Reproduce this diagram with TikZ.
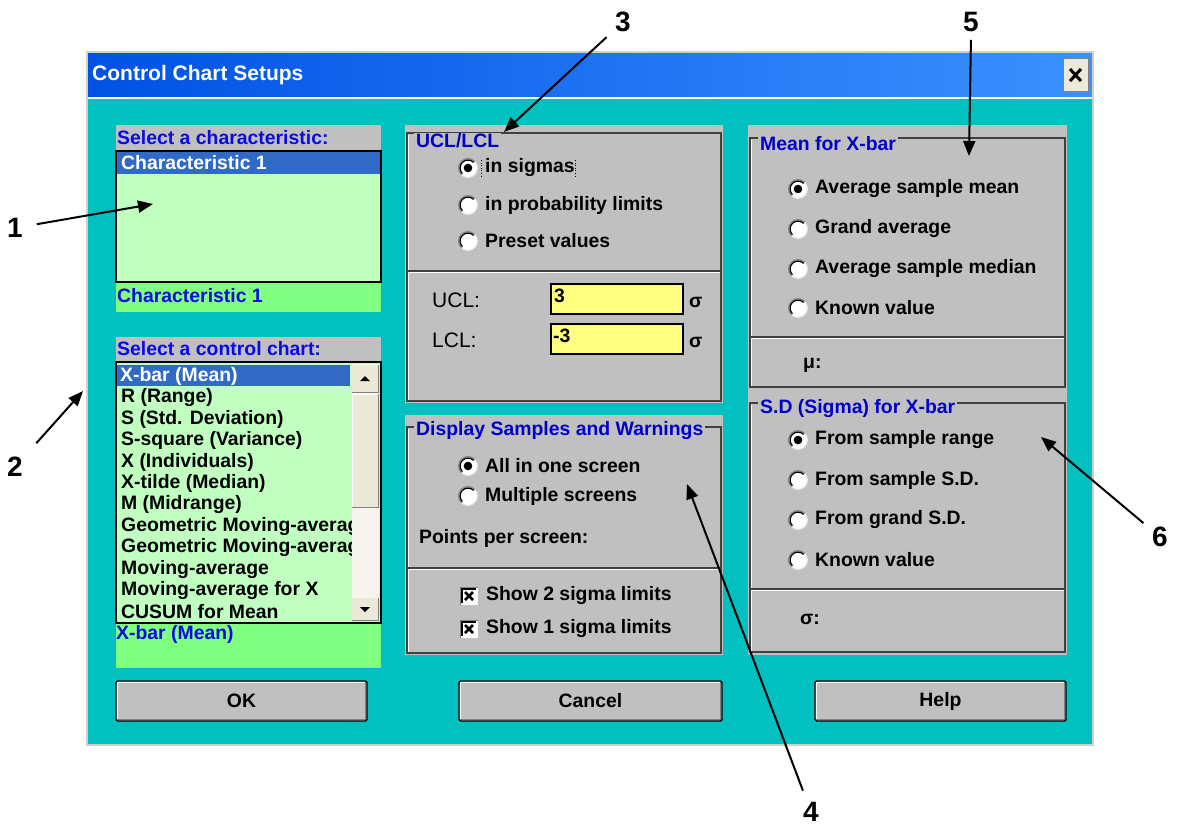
\documentclass[tikz,border=0pt]{standalone}
\usepackage{fontspec}
\setmainfont{Liberation Sans}
\usetikzlibrary{arrows.meta,calc}

\definecolor{winteal}{RGB}{0,192,192}
\definecolor{wingray}{RGB}{192,192,192}
\definecolor{listgreen}{RGB}{192,255,192}
\definecolor{stripgreen}{RGB}{128,255,128}
\definecolor{fieldyellow}{RGB}{255,255,128}
\definecolor{selblue}{RGB}{49,106,197}
\definecolor{labelblue}{RGB}{10,10,230}
\definecolor{titleblue}{RGB}{0,0,200}
\definecolor{xpbeige}{RGB}{236,233,216}
\definecolor{framegray}{RGB}{212,208,200}
\definecolor{darkedge}{RGB}{64,64,64}

\tikzset{
  ui/.style={font=\fontsize{19.4}{22}\selectfont\bfseries,inner sep=0pt,anchor=west},
  uiblue/.style={ui,text=labelblue},
  grouptitle/.style={ui,text=titleblue,fill=wingray,inner xsep=2pt,inner ysep=1pt},
  num/.style={font=\fontsize{28}{30}\selectfont\bfseries,inner sep=4pt},
  callout/.style={line width=2pt,-{Triangle[length=15pt,width=12pt]}},
  etchdark/.style={draw=darkedge,line width=1.2pt},
  etchlight/.style={draw=white,line width=1.2pt},
  % radio button: sunken circle, shadowed on the upper left half
  radiooff/.pic={
    \fill[white] (0,0) circle [radius=9.3pt];
    \draw[white!85!gray,line width=1.2pt] (0,0) circle [radius=9.3pt];
    \begin{scope}
      \clip (-13,13) -- (-13,-13) -- (13,-13) -- cycle;
      \draw[gray,line width=1.4pt] (0,0) circle [radius=9.3pt];
      \draw[black,line width=1.2pt] (0,0) circle [radius=7.9pt];
    \end{scope}
  },
  radioon/.pic={
    \pic {radiooff};
    \fill[black] (0,0) circle [radius=4.3pt];
  },
  checkon/.pic={
    \fill[white] (-8.5,-8.5) rectangle (8.5,8.5);
    \draw[gray,line width=1.4pt] (-8.5,8.5) -- (-8.5,-8.5) -- (8.5,-8.5);
    \draw[black,line width=1.2pt] (-7,7) -- (-7,-7) -- (7,-7);
    \draw[black,line width=2.8pt] (-4,-4) -- (4,4) (-4,4) -- (4,-4);
  },
  pushbtn/.style={draw=black,line width=1.4pt,fill=wingray,rounded corners=1.5pt,
    font=\fontsize{19.4}{22}\selectfont\bfseries,inner sep=0pt}
}

\begin{document}
\begin{tikzpicture}[x=1pt,y=-1pt]
\useasboundingbox[fill=white] (0,0) rectangle (1179,827);

% ---------- window ----------
\fill[winteal] (87,97) rectangle (1093,745);
\shade[left color={rgb,255:red,0;green,82;blue,228},right color={rgb,255:red,60;green,145;blue,255}]
  (87,52) rectangle (1093,97);
\draw[white!80!framegray,line width=1.5pt] (87,98) -- (1093,98);
\draw[framegray,line width=2pt] (87,52) rectangle (1093,745);
\node[ui,text=white,font=\fontsize{21}{24}\selectfont\bfseries] (wintitle) at (92,75) {Control Chart Setups};

% close button
\node[draw=gray,fill=xpbeige,minimum width=25pt,minimum height=33pt,inner sep=0pt] (closebtn) at (1075.5,75) {};
\draw[black,line width=3pt] (1070,69) -- (1081,81) (1070,81) -- (1081,69);

% ---------- characteristic list ----------
\fill[wingray] (116,125) rectangle (381,151);
\node[uiblue] (charhead) at (117,138) {Select a characteristic:};
\fill[listgreen] (116,151) rectangle (381,282);
\fill[selblue] (117,152) rectangle (380,174);
\node[ui,text=white] (charsel) at (121,163) {Characteristic 1};
\draw[black,line width=1.5pt] (116,151) rectangle (381,282);
\fill[stripgreen] (116,283) rectangle (381,312);
\node[uiblue] (charcur) at (117,296) {Characteristic 1};

% ---------- control chart list ----------
\fill[wingray] (116,337) rectangle (381,362);
\node[uiblue] (charthead) at (117,349) {Select a control chart:};
\fill[listgreen] (116,362) rectangle (381,623);
\fill[selblue] (117,365) rectangle (350,386);
\begin{scope}
  \clip (117,363) rectangle (351,622);
  \node[ui,text=white] (item0) at (120,376.5) {X-bar (Mean)};
  \foreach \t [count=\i] in {{R (Range)},{S (Std. Deviation)},{S-square (Variance)},
      {X (Individuals)},{X-tilde (Median)},{M (Midrange)},{Geometric Moving-average},
      {Geometric Moving-average},{Moving-average},{Moving-average for X},{CUSUM for Mean}}
    \node[ui] (item\i) at (121,376.5+21.4*\i) {\t};
\end{scope}
% scroll bar
\fill[xpbeige!50!white] (352,364) rectangle (379,621);
\fill[xpbeige] (352,365) rectangle (378,392);
\draw[gray] (352,392) -- (378,392) -- (378,365);
\fill[xpbeige] (352,394) rectangle (378,507);
\draw[gray] (352,507) -- (378,507) -- (378,394);
\draw[white] (352.5,507) -- (352.5,394) -- (378,394);
\fill[xpbeige] (352,598) rectangle (378,620);
\draw[gray] (352,620) -- (378,620) -- (378,598);
\fill[black] (360,381) -- (370,381) -- (365,376) -- cycle;
\fill[black] (360,607) -- (370,607) -- (365,612) -- cycle;
\draw[black,line width=1.5pt] (116,362) rectangle (381,623);
\fill[stripgreen] (116,624) rectangle (381,668);
\node[uiblue] (chartcur) at (116,634) {X-bar (Mean)};

% ---------- UCL/LCL group ----------
\fill[wingray] (405,125) rectangle (723,403);
\draw[etchdark] (407,133) rectangle (721,401);
\draw[etchlight] (408.5,134.5) -- (408.5,399.5);
\draw[etchdark] (407,271) -- (721,271);
\draw[etchlight] (408,272.5) -- (720,272.5);
\node[grouptitle] (ucltitle) at (414,141) {UCL/LCL};
\pic at (468,168) {radioon};
\pic at (468,205) {radiooff};
\pic at (468,241) {radiooff};
\node[ui] (sigmas) at (485,168) {in sigmas};
\draw[black,dotted,line width=0.6pt] (481,160) -- (481,178) (575,160) -- (575,178);
\node[ui] (problim) at (485,205) {in probability limits};
\node[ui] (preset) at (485,241) {Preset values};
\node[ui,font=\fontsize{21}{24}\selectfont] (ucllab) at (432,300) {UCL:};
\node[ui,font=\fontsize{21}{24}\selectfont] (lcllab) at (432,340) {LCL:};
\node[draw=black,line width=1.4pt,fill=fieldyellow,minimum width=132pt,minimum height=30pt,inner sep=0pt] (uclbox) at (617,299) {};
\node[draw=black,line width=1.4pt,fill=fieldyellow,minimum width=132pt,minimum height=30pt,inner sep=0pt] (lclbox) at (617,339) {};
\node[ui] (uclval) at (554,296) {3};
\node[ui] (lclval) at (553,336) {-3};
\node[ui] (uclsig) at (689,302) {σ};
\node[ui] (lclsig) at (689,342) {σ};

% ---------- display group ----------
\fill[wingray] (405,415) rectangle (723,655);
\draw[etchdark] (407,427) rectangle (721,653);
\draw[etchlight] (408.5,428.5) -- (408.5,651.5);
\draw[etchdark] (407,568) -- (721,568);
\draw[etchlight] (408,569.5) -- (720,569.5);
\node[grouptitle] (disptitle) at (414,431) {Display Samples and Warnings};
\pic at (468,466) {radioon};
\pic at (468,496) {radiooff};
\node[ui] (allone) at (485,466) {All in one screen};
\node[ui] (multi) at (485,496) {Multiple screens};
\node[ui] (points) at (419,538) {Points per screen:};
\pic at (469,596) {checkon};
\pic at (469,629) {checkon};
\node[ui] (show2) at (486,596) {Show 2 sigma limits};
\node[ui] (show1) at (486,629) {Show 1 sigma limits};

% ---------- mean group ----------
\fill[wingray] (748,125) rectangle (1067,390);
\draw[etchdark] (750,138) rectangle (1065,387);
\draw[etchlight] (751.5,139.5) -- (751.5,385.5);
\draw[etchdark] (750,337) -- (1065,337);
\draw[etchlight] (751,338.5) -- (1064,338.5);
\node[grouptitle] (meantitle) at (758,144) {Mean for X-bar};
\pic at (798,189) {radioon};
\pic at (798,229) {radiooff};
\pic at (798,269) {radiooff};
\pic at (798,308) {radiooff};
\node[ui] (avgmean) at (815,189) {Average sample mean};
\node[ui] (grand) at (815,229) {Grand average};
\node[ui] (avgmed) at (815,269) {Average sample median};
\node[ui] (knownmu) at (815,308) {Known value};
\node[ui] (mulab) at (803,365) {μ:};

% ---------- sigma group ----------
\fill[wingray] (748,390) rectangle (1067,655);
\draw[etchdark] (750,403) rectangle (1065,652);
\draw[etchlight] (751.5,404.5) -- (751.5,650.5);
\draw[etchdark] (750,589) -- (1065,589);
\draw[etchlight] (751,590.5) -- (1064,590.5);
\node[grouptitle] (sdtitle) at (758,409) {S.D (Sigma) for X-bar};
\pic at (798,440) {radioon};
\pic at (798,480) {radiooff};
\pic at (798,520) {radiooff};
\pic at (798,560) {radiooff};
\node[ui] (fromrange) at (815,440) {From sample range};
\node[ui] (fromsd) at (815,480) {From sample S.D.};
\node[ui] (fromgrand) at (815,520) {From grand S.D.};
\node[ui] (knownsd) at (815,560) {Known value};
\node[ui] (siglab) at (800,619) {σ:};

% ---------- push buttons ----------
\foreach \nm/\cx/\w/\txt in {okbtn/241.5/251/OK, cancelbtn/590.5/263/Cancel, helpbtn/940.5/251/Help} {
  \node[pushbtn,minimum width=\w pt,minimum height=40pt] (\nm) at (\cx,701) {\txt};
  \draw[white,line width=1.5pt] ($(\nm.south west)+(2,-2)$) -- ($(\nm.north west)+(2,2)$) -- ($(\nm.north east)+(-2,2)$);
  \draw[gray,line width=1.5pt] ($(\nm.south west)+(2,-2)$) -- ($(\nm.south east)+(-2,-2)$) -- ($(\nm.north east)+(-2,2)$);
}

% ---------- callouts ----------
\node[num] (n1) at (15,228) {1};
\node[num] (n2) at (15,467) {2};
\node[num] (n3) at (623,22) {3};
\node[num] (n4) at (811,812) {4};
\node[num] (n5) at (971,22) {5};
\node[num] (n6) at (1160,537) {6};
\coordinate (t1) at (153,204);
\coordinate (t2) at (83,391);
\coordinate (t3) at (504,132);
\coordinate (t4) at (687,484);
\coordinate (t5) at (969,156);
\coordinate (t6) at (1041,437);
\draw[callout,shorten <=10pt] (n1) -- (t1);
\draw[callout,shorten <=14pt] (n2) -- (t2);
\draw[callout,shorten <=6pt] (n3) -- (t3);
\draw[callout,shorten <=8pt] (n4) -- (t4);
\draw[callout,shorten <=4pt] (n5.south) -- (t5);
\draw[callout,shorten <=6pt] (n6) -- (t6);
\end{tikzpicture}
\end{document}
